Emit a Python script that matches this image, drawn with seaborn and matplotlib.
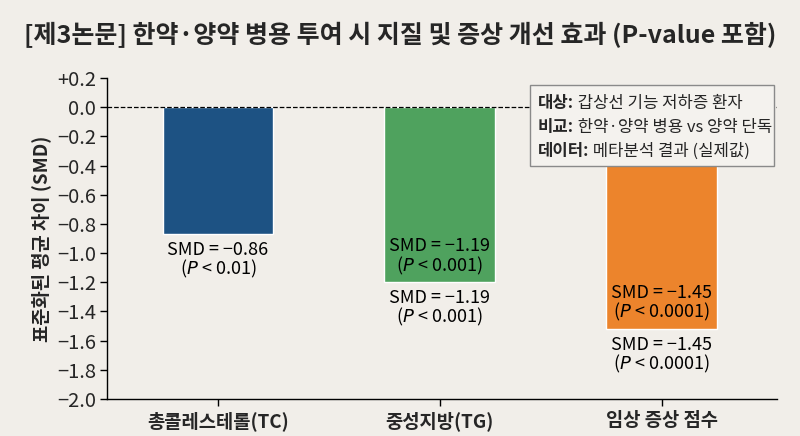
import matplotlib
matplotlib.use('Agg')
import matplotlib.pyplot as plt
import seaborn as sns
from matplotlib.ticker import FuncFormatter
from matplotlib.patches import Rectangle

# 데이터
categories = ['총콜레스테롤(TC)', '중성지방(TG)', '임상 증상 점수']
smd_values = [-0.87, -1.20, -1.52]
smd_labels = ['−0.86', '−1.19', '−1.45']
p_labels = ['0.01', '0.001', '0.0001']
inside_label = [False, True, True]
bar_colors = ['#1d5283', '#4fa25e', '#ec842c']

info_keys = ['대상:', '비교:', '데이터:']
info_vals = ['갑상선 기능 저하증 환자', '한약·양약 병용 vs 양약 단독', '메타분석 결과 (실제값)']

bg = '#f1eee9'
sns.set_theme(style='ticks')
plt.rcParams['font.family'] = ['Noto Sans CJK KR', 'DejaVu Sans']
plt.rcParams['axes.unicode_minus'] = True

fig = plt.figure(figsize=(8, 4.36), dpi=100, facecolor=bg)
ax = fig.add_axes([0.134, 0.085, 0.837, 0.736])
ax.set_facecolor(bg)

sns.barplot(x=categories, y=smd_values, hue=categories, palette=bar_colors,
            width=0.5, saturation=1, legend=False, ax=ax)

ax.set_xlim(-0.5, 2.52)
ax.set_ylim(-2.0, 0.2)
ax.set_yticks([0.2 - 0.2 * i for i in range(12)])
ax.yaxis.set_major_formatter(FuncFormatter(
    lambda v, _: '+%.1f' % v if v > 0.01 else ('0.0' if abs(v) < 0.01 else '−%.1f' % abs(v))))
ax.tick_params(axis='y', length=5, width=1, color='black', pad=3)
ax.tick_params(axis='x', length=5, width=1, color='black', pad=4)
plt.setp(ax.get_yticklabels(), fontsize=14.5)
plt.setp(ax.get_xticklabels(), fontsize=13.5, fontweight='semibold')
for s in ['top', 'right']:
    ax.spines[s].set_visible(False)
for s in ['left', 'bottom']:
    ax.spines[s].set_color('black')
    ax.spines[s].set_linewidth(1)

ax.axhline(0, color='black', linestyle='--', linewidth=0.9, zorder=1)

ax.set_xlabel('')
ax.set_ylabel('표준화된 평균 차이 (SMD)', fontsize=13.5, fontweight='bold', labelpad=4)

# 막대 라벨
for i, v in enumerate(smd_values):
    txt = 'SMD = %s\n($\\it{P}$ < %s)' % (smd_labels[i], p_labels[i])
    ax.annotate(txt, xy=(i, v), xytext=(0, -5), textcoords='offset points',
                ha='center', va='top', fontsize=13, linespacing=0.95, color='black')
    if inside_label[i]:
        ax.annotate(txt, xy=(i, v), xytext=(0, 4), textcoords='offset points',
                    ha='center', va='bottom', fontsize=13, linespacing=0.95, color='black')

# 정보 상자
box = Rectangle((0.6625, 0.619), 0.305, 0.186, transform=fig.transFigure,
                facecolor='#f4f2ee', edgecolor='#8a8a8a', linewidth=1, zorder=5,
                clip_on=False)
ax.add_patch(box)
for k, (key, val) in enumerate(zip(info_keys, info_vals)):
    y = 0.752 - k * 0.055
    t = ax.text(0.672, y, key, transform=fig.transFigure, fontsize=12,
                fontweight='bold', ha='left', va='baseline', zorder=6, clip_on=False)
    ax.annotate(' ' + val, xy=(1, 0), xycoords=t, ha='left', va='bottom',
                fontsize=12, annotation_clip=False, zorder=6)

fig.suptitle('[제3논문] 한약·양약 병용 투여 시 지질 및 증상 개선 효과 (P-value 포함)',
             fontsize=18, fontweight='bold', y=0.95)

fig.savefig('out.png', dpi=100, facecolor=bg)
